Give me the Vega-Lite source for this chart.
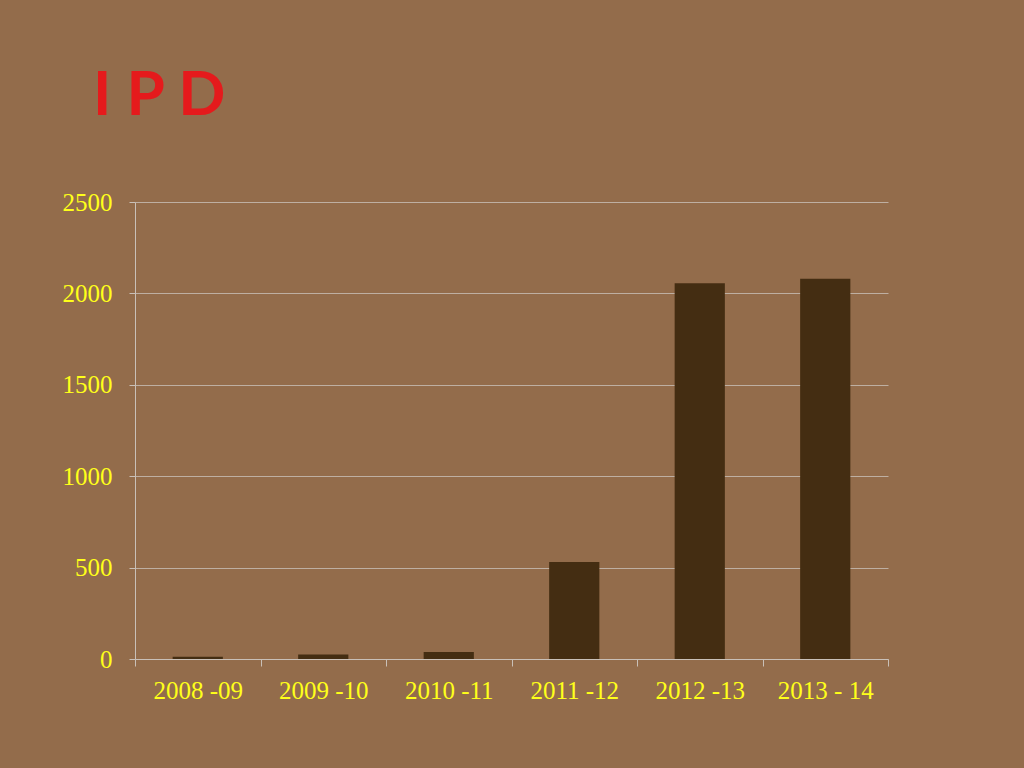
{
  "$schema": "https://vega.github.io/schema/vega-lite/v6.json",
  "autosize": "none",
  "padding": {"left": 135, "top": 202, "right": 136, "bottom": 109},
  "width": 753,
  "height": 457,
  "background": "#936c4b",
  "title": {
    "text": "I P D",
    "anchor": "start",
    "frame": "group",
    "font": "Lato",
    "fontWeight": "bold",
    "fontSize": 62,
    "color": "#e51a1c",
    "baseline": "alphabetic",
    "dx": -42,
    "offset": 13
  },
  "data": {
    "values": [
      {"year": "2008 -09", "ipd": 12},
      {"year": "2009 -10", "ipd": 24},
      {"year": "2010 -11", "ipd": 38},
      {"year": "2011 -12", "ipd": 531},
      {"year": "2012 -13", "ipd": 2055},
      {"year": "2013 - 14", "ipd": 2080}
    ]
  },
  "config": {
    "view": {"stroke": null},
    "axis": {
      "labelFont": "Liberation Serif",
      "labelFontSize": 25,
      "labelColor": "#ffff1a",
      "domainColor": "#c9c0b8",
      "tickColor": "#c9c0b8",
      "gridColor": "#c9c0b8",
      "gridOpacity": 0.8,
      "title": null
    }
  },
  "mark": {"type": "bar", "color": "#442d12", "width": {"band": 0.4}},
  "encoding": {
    "x": {
      "field": "year",
      "type": "nominal",
      "sort": null,
      "scale": {"paddingInner": 0, "paddingOuter": 0},
      "axis": {
        "labelAngle": 0,
        "tickBand": "extent",
        "tickSize": 7,
        "labelPadding": 12,
        "grid": false
      }
    },
    "y": {
      "field": "ipd",
      "type": "quantitative",
      "scale": {"domain": [0, 2500], "nice": false},
      "axis": {
        "values": [0, 500, 1000, 1500, 2000, 2500],
        "format": "d",
        "tickSize": 6,
        "labelPadding": 17,
        "grid": true
      }
    }
  }
}
